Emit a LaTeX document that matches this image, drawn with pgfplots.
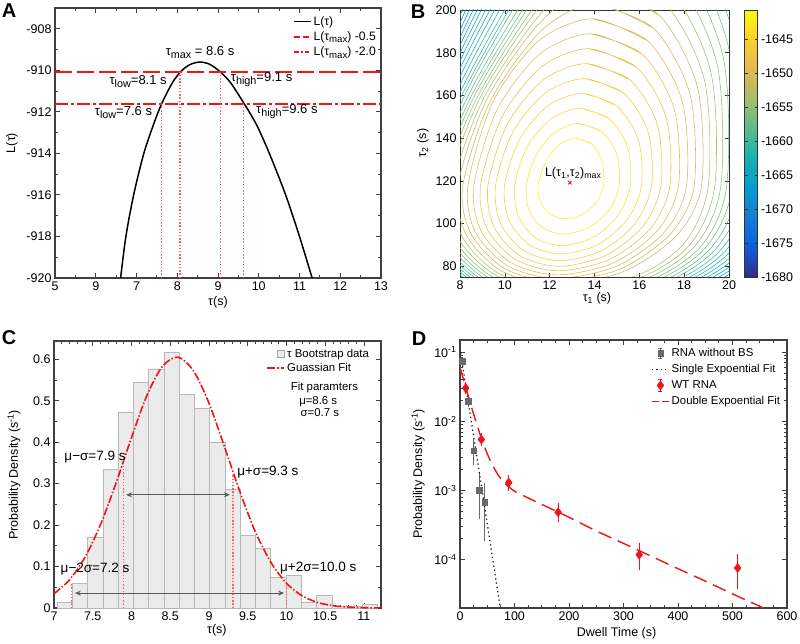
\documentclass[border=0pt]{standalone}
\usepackage{pgfplots}
\pgfplotsset{compat=1.18}
\usepackage{fontspec}
\setmainfont{Liberation Sans}
\usetikzlibrary{arrows.meta}
\newcommand{\fs}{\fontsize{12.5}{15}\selectfont}
\newcommand{\fsl}{\fontsize{11.4}{13.5}\selectfont}
\newcommand{\fsa}{\fontsize{13}{15}\selectfont}
\newcommand{\fsc}{\fontsize{13.5}{15}\selectfont}
\newcommand{\sbs}[1]{\raisebox{-0.4ex}{\fontsize{10.8}{11}\selectfont #1}}
\newcommand{\sbl}[1]{\raisebox{-0.35ex}{\fontsize{9.6}{10}\selectfont #1}}
\definecolor{myred}{RGB}{240,20,20}
\definecolor{pinkr}{RGB}{255,95,95}
\definecolor{dgray}{RGB}{105,105,105}
\definecolor{k1}{RGB}{250,238,24}
\definecolor{k2}{RGB}{251,227,31}
\definecolor{k3}{RGB}{251,217,38}
\definecolor{k4}{RGB}{252,207,45}
\definecolor{k5}{RGB}{246,202,54}
\definecolor{k6}{RGB}{240,197,62}
\definecolor{k7}{RGB}{234,192,70}
\definecolor{k8}{RGB}{228,187,78}
\definecolor{k9}{RGB}{217,186,85}
\definecolor{k10}{RGB}{203,187,91}
\definecolor{k11}{RGB}{190,188,97}
\definecolor{k12}{RGB}{176,189,103}
\definecolor{k13}{RGB}{161,190,109}
\definecolor{k14}{RGB}{144,190,116}
\definecolor{k15}{RGB}{127,190,124}
\definecolor{k16}{RGB}{110,189,131}
\definecolor{k17}{RGB}{92,189,139}
\definecolor{k18}{RGB}{76,187,148}
\definecolor{k19}{RGB}{60,184,157}
\definecolor{k20}{RGB}{45,181,166}
\definecolor{k21}{RGB}{29,178,175}
\definecolor{k22}{RGB}{19,175,183}
\definecolor{k23}{RGB}{16,170,189}
\definecolor{k24}{RGB}{13,165,195}
\definecolor{k25}{RGB}{10,160,201}
\definecolor{k26}{RGB}{7,155,207}
\definecolor{k27}{RGB}{10,148,209}
\definecolor{k28}{RGB}{12,141,211}
\definecolor{k29}{RGB}{15,134,213}
\definecolor{k30}{RGB}{17,127,215}
\definecolor{k31}{RGB}{17,119,217}
\pgfplotsset{
  /pgf/number format/assume math mode=true,
  every axis/.append style={scale only axis, font=\fs, tick label style={font=\fs}, label style={font=\fs}},
  orig/.style={tick align=inside, major tick length=5pt, minor tick length=3pt,
    axis line style={line width=1.2pt, draw=black!75},
    tick style={line width=0.9pt, black!75}},
  vdot/.style={pinkr, line width=1.2pt, dash pattern=on 1.4pt off 1.8pt, forget plot},
}
\begin{document}
\begin{tikzpicture}[x=1pt,y=1pt]
\path[use as bounding box] (0,0) rectangle (800,643);
\node[font=\bfseries\fontsize{20}{20}\selectfont] at (9,632) {A};
\node[font=\bfseries\fontsize{20}{20}\selectfont] at (418,631) {B};
\node[font=\bfseries\fontsize{20}{20}\selectfont] at (9,305) {C};
\node[font=\bfseries\fontsize{20}{20}\selectfont] at (419,304) {D};

% ---------------- Panel A
\begin{axis}[orig, at={(55pt,365pt)}, anchor=south west, width=326pt, height=270pt,
 xmin=5, xmax=13, ymin=-920, ymax=-907,
 xtick={5,6,...,13}, xticklabels={5,9,7,8,9,10,11,12,13},
 ytick={-920,-918,-916,-914,-912,-910,-908}, yticklabels={-920,-918,-916,-914,-912,-910,-908},
 minor x tick num=1, minor y tick num=1,
 xlabel={τ(s)}, ylabel={L(τ)},
 xlabel style={at={(axis description cs:0.5,-0.089)}, anchor=center},
 ylabel style={at={(axis description cs:-0.132,0.5)}, anchor=center},
 legend style={at={(axis description cs:0.72,0.985)}, anchor=north west, draw=none, fill=none, font=\fontsize{12.2}{14}\selectfont, row sep=1pt},
 legend cell align=left]
\addplot[black, line width=1.5pt, smooth] coordinates {(6.61,-920) (6.74,-918) (6.93,-916) (7.18,-914) (7.42,-912.6) (7.62,-911.6) (7.88,-910.6) (8.07,-910.1) (8.21,-909.85) (8.35,-909.69) (8.56,-909.6) (8.77,-909.685) (8.91,-909.85) (9.07,-910.1) (9.31,-910.6) (9.64,-911.6) (9.94,-912.6) (10.26,-914) (10.66,-916) (11.0,-918) (11.31,-920)};
\addlegendentry{L(τ)}
\addplot[myred, line width=2pt, dash pattern=on 17pt off 5pt,
 legend image code/.code={\draw[myred, line width=1.6pt, dash pattern=on 6pt off 3pt] (0pt,0pt) -- (15pt,0pt);}] coordinates {(5,-910.1) (13,-910.1)};
\addlegendentry{L(τ\sbl{max}) -0.5}
\addplot[myred, line width=2pt, dash pattern=on 13pt off 3pt on 3pt off 3pt,
 legend image code/.code={\draw[myred, line width=1.6pt, dash pattern=on 5pt off 2pt on 2pt off 2pt] (0pt,0pt) -- (15pt,0pt);}] coordinates {(5,-911.6) (13,-911.6)};
\addlegendentry{L(τ\sbl{max}) -2.0}
\addplot[vdot] coordinates {(7.62,-920) (7.62,-911.6)};
\addplot[vdot] coordinates {(8.07,-920) (8.07,-910.1)};
\addplot[vdot] coordinates {(9.07,-920) (9.07,-910.1)};
\addplot[vdot] coordinates {(9.63,-920) (9.63,-911.6)};
\node[font=\fsa] at (axis cs:8.56,-909.15) {τ\sbs{max} = 8.6 s};
\node[font=\fsa] at (axis cs:7.04,-910.53) {τ\sbs{low}=8.1 s};
\node[font=\fsa] at (axis cs:10.07,-910.45) {τ\sbs{high}=9.1 s};
\node[font=\fsa] at (axis cs:6.68,-912.05) {τ\sbs{low}=7.6 s};
\node[font=\fsa] at (axis cs:10.69,-911.98) {τ\sbs{high}=9.6 s};
\end{axis}

% ---------------- Panel B
\begin{axis}[at={(460pt,366pt)}, anchor=south west, width=269pt, height=267pt,
 xmin=8, xmax=20, ymin=75, ymax=200,
 xtick={8,10,...,20}, ytick={80,100,...,200},
 tick align=inside, major tick length=4pt,
 axis line style={line width=0.8pt, draw=black!80}, tick style={line width=0.6pt, black!80},
 xlabel={τ\textsubscript{1} (s)}, ylabel={τ\textsubscript{2} (s)},
 xlabel style={at={(axis description cs:0.509,-0.079)}, anchor=center},
 ylabel style={at={(axis description cs:-0.138,0.502)}, anchor=center},
 colormap={parula}{rgb255=(53,42,135) rgb255=(15,92,221) rgb255=(18,125,216) rgb255=(7,156,207) rgb255=(21,177,180) rgb255=(89,189,140) rgb255=(165,190,107) rgb255=(225,185,82) rgb255=(252,206,46) rgb255=(249,251,14)},
 point meta min=-1680, point meta max=-1640.7,
 colorbar,
 colorbar style={at={(parent axis.north east)}, anchor=north west, xshift=7pt, width=13pt,
   ytick={-1680,-1675,-1670,-1665,-1660,-1655,-1650,-1645},
   yticklabels={-1680,-1675,-1670,-1665,-1660,-1655,-1650,-1645},
   tick align=inside, major tick length=3pt,
   axis line style={line width=0.8pt, draw=black!80}, tick style={line width=0.6pt, black!80},
   yticklabel style={font=\fs}},
 every axis plot/.append style={line width=0.55pt, smooth}]
\addplot[k31] coordinates {(5.76,87.4) (5.13,118) (7.73,194.53) (12.73,302.13) (15.91,349.9)};
\addplot[k30] coordinates {(5.85,87.6) (5.23,118) (7.78,192.22) (12.69,296.57) (15.82,342.9)};
\addplot[k29] coordinates {(5.94,87.8) (5.33,118) (7.82,189.91) (12.65,291.01) (15.73,335.9)};
\addplot[k28] coordinates {(6.03,88.0) (5.43,118) (7.87,187.6) (12.61,285.45) (15.64,328.9)};
\addplot[k27] coordinates {(6.13,88.2) (5.53,118) (7.92,185.29) (12.57,279.9) (15.55,321.9)};
\addplot[k26] coordinates {(15.46,314.9) (19.99,288.52) (22.62,216.45) (22.65,118) (21.12,84.9) (17.69,65.67) (12.13,59.0) (8.61,66.91) (6.23,88.5) (5.64,118) (7.98,182.98) (12.54,274.34) (15.46,314.9) (19.99,288.52)};
\addplot[k25] coordinates {(15.37,307.9) (19.79,282.45) (22.36,212.95) (22.4,118) (20.9,85.18) (17.56,66.11) (12.14,59.5) (8.67,67.34) (6.33,88.75) (5.75,118) (8.04,180.67) (12.5,268.78) (15.37,307.9) (19.79,282.45)};
\addplot[k24] coordinates {(15.28,300.9) (19.58,276.4) (22.1,209.45) (22.15,118) (20.68,85.52) (17.42,66.64) (12.15,60.1) (8.73,67.86) (6.43,89.05) (5.86,118) (8.1,178.36) (12.47,263.22) (15.28,300.9) (19.58,276.4)};
\addplot[k23] coordinates {(15.19,293.9) (19.38,270.3) (21.84,205.95) (21.9,118) (20.47,85.85) (17.29,67.17) (12.16,60.7) (8.8,68.38) (6.54,89.35) (5.98,118) (8.16,176.05) (12.43,257.66) (15.19,293.9) (19.38,270.3)};
\addplot[k22] coordinates {(15.1,286.9) (19.18,264.3) (21.58,202.45) (21.65,118) (20.25,86.19) (17.16,67.71) (12.16,61.3) (8.86,68.9) (6.64,89.65) (6.1,118) (8.23,173.74) (12.4,252.11) (15.1,286.9) (19.18,264.3)};
\addplot[k21] coordinates {(15.0,279.9) (18.97,258.2) (21.31,198.95) (21.4,118) (20.03,86.58) (17.02,68.33) (12.17,62.0) (8.93,69.5) (6.76,90.0) (6.23,118) (8.3,171.43) (12.37,246.55) (15.0,279.9) (18.97,258.2)};
\addplot[k20] coordinates {(14.91,272.9) (18.77,252.1) (21.05,195.45) (21.15,118) (19.82,86.98) (16.89,68.95) (12.18,62.7) (9.01,70.11) (6.88,90.35) (6.36,118) (8.37,169.12) (12.34,240.99) (14.91,272.9) (18.77,252.1)};
\addplot[k19] coordinates {(14.82,265.9) (18.57,246.1) (20.79,191.95) (20.9,118) (19.6,87.37) (16.76,69.57) (12.19,63.4) (9.09,70.72) (7.0,90.7) (6.5,118) (8.45,167.69) (12.28,235.88) (14.82,265.9) (18.57,246.1)};
\addplot[k18] coordinates {(14.73,258.9) (18.36,240.0) (20.53,188.45) (20.65,118) (19.38,87.82) (16.63,70.28) (12.2,64.2) (9.17,71.41) (7.14,91.1) (6.65,118) (8.52,166.47) (12.22,231.0) (14.73,258.9) (18.36,240.0)};
\addplot[k17] coordinates {(14.64,251.9) (18.16,234.0) (20.27,184.95) (20.4,118) (19.17,88.27) (16.5,70.99) (12.21,65.0) (9.25,72.1) (7.27,91.5) (6.8,118) (8.61,164.87) (12.17,225.66) (14.64,251.9) (18.16,234.0)};
\addplot[k16] coordinates {(14.55,244.9) (17.95,227.9) (20.0,181.45) (20.15,118) (18.95,88.77) (16.37,71.79) (12.22,65.9) (9.34,72.88) (7.42,91.95) (6.96,118) (8.69,163.43) (12.11,220.54) (14.55,244.9) (17.95,227.9)};
\addplot[k15] coordinates {(14.46,237.9) (17.75,221.8) (19.74,177.95) (19.9,118) (18.74,89.28) (16.24,72.59) (12.23,66.8) (9.44,73.66) (7.57,92.4) (7.13,118) (8.78,162.48) (12.03,215.6) (14.46,237.9) (17.75,221.8)};
\addplot[k14] coordinates {(14.37,230.9) (17.54,215.8) (19.47,174.45) (19.64,118) (18.51,89.84) (16.1,73.47) (12.25,67.8) (9.54,74.53) (7.73,92.9) (7.31,118) (8.88,161.35) (11.96,210.58) (14.37,230.9) (17.54,215.8)};
\addplot[k13] coordinates {(14.28,223.9) (17.33,209.7) (19.19,170.95) (19.37,118) (18.28,90.45) (15.96,74.45) (12.26,68.9) (9.65,75.48) (7.9,93.45) (7.5,118) (8.98,160.57) (11.87,205.69) (14.28,223.9) (17.33,209.7)};
\addplot[k12] coordinates {(14.19,216.9) (17.1,203.65) (18.9,167.45) (19.08,118) (18.03,91.13) (15.82,75.51) (12.28,70.1) (9.76,76.52) (8.09,94.05) (7.7,118) (9.1,159.54) (11.79,200.58) (14.19,216.9) (17.1,203.65)};
\addplot[k11] coordinates {(14.1,209.9) (16.88,197.6) (18.59,163.95) (18.78,118) (17.69,94.7) (15.32,77.64) (12.29,71.4) (9.88,77.64) (8.28,94.7) (7.91,118) (9.22,158.71) (11.7,195.56) (14.1,209.9) (16.88,197.6)};
\addplot[k10] coordinates {(14.0,202.9) (16.63,191.5) (18.26,160.45) (18.45,118) (17.41,95.4) (15.17,78.86) (12.31,72.8) (10.01,78.86) (8.48,95.4) (8.13,118) (9.35,157.31) (11.63,190.33) (14.0,202.9) (16.63,191.5)};
\addplot[k9] coordinates {(13.91,195.9) (16.38,185.5) (17.92,156.95) (18.11,118) (17.13,96.15) (15.01,80.16) (12.33,74.3) (10.14,80.16) (8.68,96.15) (8.36,118) (9.47,156.95) (11.51,185.5) (13.91,195.9) (16.38,185.5)};
\addplot[k8] coordinates {(13.82,188.9) (16.12,179.4) (17.56,153.45) (17.75,118) (16.83,97.0) (14.85,81.63) (12.35,76.0) (10.29,81.63) (8.92,97.0) (8.62,118) (9.66,153.45) (11.56,179.4) (13.82,188.9) (16.12,179.4)};
\addplot[k7] coordinates {(13.73,181.9) (15.86,173.3) (17.19,149.95) (17.37,118) (16.51,97.95) (14.68,83.27) (12.38,77.9) (10.46,83.27) (9.19,97.95) (8.92,118) (9.87,149.95) (11.63,173.3) (13.73,181.9) (15.86,173.3)};
\addplot[k6] coordinates {(13.64,174.9) (15.58,167.3) (16.8,146.45) (16.97,118) (16.18,99.0) (14.51,85.09) (12.41,80.0) (10.65,85.09) (9.49,99.0) (9.25,118) (10.11,146.45) (11.72,167.3) (13.64,174.9) (15.58,167.3)};
\addplot[k5] coordinates {(13.55,167.9) (15.29,161.2) (16.39,142.95) (16.55,118) (15.83,100.3) (14.33,87.34) (12.44,82.6) (10.85,87.34) (9.8,100.3) (9.59,118) (10.36,142.95) (11.81,161.2) (13.55,167.9) (15.29,161.2)};
\addplot[k4] coordinates {(13.46,160.9) (14.98,155.15) (15.95,139.45) (16.1,118) (15.46,101.9) (14.14,90.1) (12.48,85.8) (11.08,90.1) (10.17,101.9) (9.99,118) (10.66,139.45) (11.93,155.15) (13.46,160.9) (14.98,155.15)};
\addplot[k3] coordinates {(13.37,153.9) (14.65,149.1) (15.47,135.95) (15.6,118) (15.05,103.85) (13.93,93.5) (12.53,89.7) (11.35,93.5) (10.59,103.85) (10.44,118) (11.0,135.95) (12.07,149.1) (13.37,153.9) (14.65,149.1)};
\addplot[k2] coordinates {(13.28,146.9) (14.33,143.0) (14.99,132.45) (15.1,118) (14.66,106.55) (13.74,98.17) (12.6,95.1) (11.67,98.17) (11.07,106.55) (10.96,118) (11.41,132.45) (12.26,143.0) (13.28,146.9) (14.33,143.0)};
\addplot[k1] coordinates {(13.19,139.9) (13.9,137.0) (14.34,128.95) (14.4,118) (14.1,110.15) (13.47,104.4) (12.7,102.3) (12.02,104.4) (11.58,110.15) (11.49,118) (11.82,128.95) (12.44,137.0) (13.19,139.9) (13.9,137.0)};
\addplot[only marks, mark=x, mark size=2.5pt, myred, line width=0.8pt] coordinates {(12.9,119.2)};
\node[font=\fs] at (axis cs:13.05,123.6) {L(τ\textsubscript{1},τ\textsubscript{2})\textsubscript{max}};
\end{axis}

% ---------------- Panel C
\begin{axis}[orig, at={(54pt,35pt)}, anchor=south west, width=327pt, height=267pt,
 xmin=7, xmax=11.22, ymin=0, ymax=0.644,
 xtick={7,7.5,8,8.5,9,9.5,10,10.5,11}, xticklabels={7,7.5,8,8.5,9,9.5,10,10.5,11},
 ytick={0,0.1,0.2,0.3,0.4,0.5,0.6}, yticklabels={0,0.1,0.2,0.3,0.4,0.5,0.6},
 minor x tick num=4, minor y tick num=1,
 xlabel={τ(s)}, ylabel={Probability Density (s\textsuperscript{-1})},
 xlabel style={at={(axis description cs:0.498,-0.082)}, anchor=center},
 ylabel style={at={(axis description cs:-0.122,0.498)}, anchor=center},
 legend style={at={(axis description cs:0.64,0.985)}, anchor=north west, draw=none, fill=none, font=\fsl, row sep=0pt},
 legend cell align=left]
\addplot[ybar interval, fill=black!8, draw=black!28, line width=0.7pt,
 legend image code/.code={\draw[fill=black!8, draw=black!35, line width=0.6pt] (0.6cm-7pt,-3.5pt) rectangle (0.6cm,3.5pt);}]
 coordinates {(7.040,0.014) (7.237,0.060) (7.434,0.171) (7.631,0.335) (7.828,0.471) (8.025,0.545) (8.222,0.575) (8.419,0.616) (8.616,0.515) (8.813,0.481) (9.010,0.400) (9.207,0.285) (9.404,0.175) (9.601,0.144) (9.798,0.075) (9.995,0.079) (10.192,0.014) (10.389,0.030) (10.586,0.004) (10.783,0.004) (10.980,0.009) (11.177,0)};
\addlegendentry{τ Bootstrap data}
\addplot[myred, line width=1.6pt, smooth, dash pattern=on 8pt off 2pt on 1.5pt off 2pt] coordinates {(7.0,0.0344) (7.2,0.0679) (7.4,0.1224) (7.6,0.201) (7.8,0.301) (8.0,0.411) (8.2,0.513) (8.4,0.583) (8.6,0.605) (8.8,0.572) (9.0,0.494) (9.2,0.389) (9.4,0.280) (9.6,0.183) (9.8,0.110) (10.0,0.0598) (10.2,0.0297) (10.4,0.0135) (10.6,0.0056) (10.8,0.0021) (11.0,0.0007) (11.2,0.0002)};
\addlegendentry{Guassian Fit}
\addplot[vdot] coordinates {(7.23,0) (7.23,0.06)};
\addplot[vdot] coordinates {(7.9,0) (7.9,0.36)};
\addplot[vdot] coordinates {(9.31,0) (9.31,0.32)};
\addplot[vdot] coordinates {(10.0,0) (10.0,0.06)};
\addplot[{Stealth[length=6pt,width=5pt]}-{Stealth[length=6pt,width=5pt]}, black!65, line width=1pt, forget plot] coordinates {(7.93,0.273) (9.27,0.273)};
\addplot[{Stealth[length=6pt,width=5pt]}-{Stealth[length=6pt,width=5pt]}, black!65, line width=1pt, forget plot] coordinates {(7.27,0.036) (9.97,0.036)};
\node[font=\fsc] at (axis cs:7.53,0.363) {μ−σ=7.9 s};
\node[font=\fsc] at (axis cs:9.76,0.327) {μ+σ=9.3 s};
\node[font=\fsc] at (axis cs:7.53,0.094) {μ−2σ=7.2 s};
\node[font=\fsc] at (axis cs:10.41,0.096) {μ+2σ=10.0 s};
\node[font=\fsl] at (axis cs:10.49,0.531) {Fit paramters};
\node[font=\fsl] at (axis cs:10.41,0.499) {μ=8.6 s};
\node[font=\fsl] at (axis cs:10.43,0.472) {σ=0.7 s};
\end{axis}

% ---------------- Panel D
\begin{axis}[orig, at={(460pt,35pt)}, anchor=south west, width=327pt, height=268pt,
 ymode=log, xmin=0, xmax=600, ymin=2e-5, ymax=0.15,
 xtick={0,100,200,300,400,500,600}, xticklabels={0,100,200,300,400,500,600},
 ytick={1e-4,1e-3,1e-2,1e-1}, yticklabels={10\textsuperscript{-4},10\textsuperscript{-3},10\textsuperscript{-2},10\textsuperscript{-1}},
 minor x tick num=3,
 xlabel={Dwell Time (s)}, ylabel={Probability Density (s\textsuperscript{-1})},
 xlabel style={at={(axis description cs:0.479,-0.094)}, anchor=center},
 ylabel style={at={(axis description cs:-0.128,0.5)}, anchor=center},
 legend style={at={(axis description cs:0.575,0.985)}, anchor=north west, draw=none, fill=none, font=\fsl, row sep=2.5pt},
 legend cell align=left]
\addplot[only marks, mark=square*, mark size=2.8pt, dgray, mark options={fill=dgray},
 error bars/.cd, y dir=both, y explicit, error bar style={line width=0.9pt, dgray}, error mark options={line width=0.9pt, mark size=3pt, dgray},
 /pgfplots/legend image code/.code={
   \draw[dgray, line width=0.8pt] (0.3cm,-5pt) -- (0.3cm,5pt);
   \draw[dgray, line width=0.8pt] (0.3cm-2pt,5pt) -- (0.3cm+2pt,5pt);
   \draw[dgray, line width=0.8pt] (0.3cm-2pt,-5pt) -- (0.3cm+2pt,-5pt);
   \fill[dgray] (0.3cm-2.6pt,-2.6pt) rectangle (0.3cm+2.6pt,2.6pt);}]
 coordinates {(4.3,0.074) += (0,0.004) -= (0,0.004)
  (15.3,0.0195) += (0,0.0018) -= (0,0.0018)
  (25.1,0.00375) += (0,0.00125) -= (0,0.00115)
  (34.9,0.00102) += (0,0.0006) -= (0,0.000586)
  (45.3,0.000684) += (0,0.000486) -= (0,0.00048)};
\addlegendentry{RNA without BS}
\addplot[black!85, line width=1.3pt, dash pattern=on 1.3pt off 3pt] coordinates {(0,0.112) (74,0.00002)};
\addlegendentry{Single Expoential Fit}
\addplot[only marks, mark=diamond*, mark size=4.6pt, myred, mark options={fill=myred},
 error bars/.cd, y dir=both, y explicit, error bar style={line width=0.9pt, myred}, error mark options={line width=0.9pt, mark size=3pt, myred},
 /pgfplots/legend image code/.code={
   \draw[myred, line width=0.8pt] (0.3cm,-6pt) -- (0.3cm,6pt);
   \draw[myred, line width=0.8pt] (0.3cm-2pt,6pt) -- (0.3cm+2pt,6pt);
   \draw[myred, line width=0.8pt] (0.3cm-2pt,-6pt) -- (0.3cm+2pt,-6pt);
   \fill[myred] (0.3cm,-4.6pt) -- (0.3cm+3.45pt,0pt) -- (0.3cm,4.6pt) -- (0.3cm-3.45pt,0pt) -- cycle;}]
 coordinates {(10.4,0.0303) += (0,0.003) -= (0,0.003)
  (39.2,0.00546) += (0,0.0006) -= (0,0.0006)
  (89.4,0.0013) += (0,0.00023) -= (0,0.00022)
  (180,0.000485) += (0,0.000115) -= (0,0.000095)
  (328.8,0.000118) += (0,0.000041) -= (0,0.0000404)
  (509.4,0.0000759) += (0,0.000032) -= (0,0.0000344)};
\addlegendentry{WT RNA}
\addplot[myred, line width=1.4pt, smooth, dash pattern=on 14pt off 7pt,
 legend image code/.code={\draw[myred, line width=1.4pt, dash pattern=on 7pt off 3pt] (0pt,0pt) -- (0.6cm,0pt);}] coordinates {(0,0.060) (5,0.044) (10,0.032) (15,0.0235) (20,0.0172) (25,0.0127) (30,0.0095) (35,0.0072) (40,0.0055) (45,0.0043) (50,0.0034) (60,0.0023) (70,0.00168) (80,0.00132) (90,0.00112) (100,0.00098) (125,0.00078) (150,0.00063) (200,0.00041) (250,0.00026) (300,0.000172) (350,0.000113) (400,0.000074) (450,0.000049) (500,0.000032) (560,0.0000195)};
\addlegendentry{Double Expoential Fit}
\end{axis}
\end{tikzpicture}
\end{document}
